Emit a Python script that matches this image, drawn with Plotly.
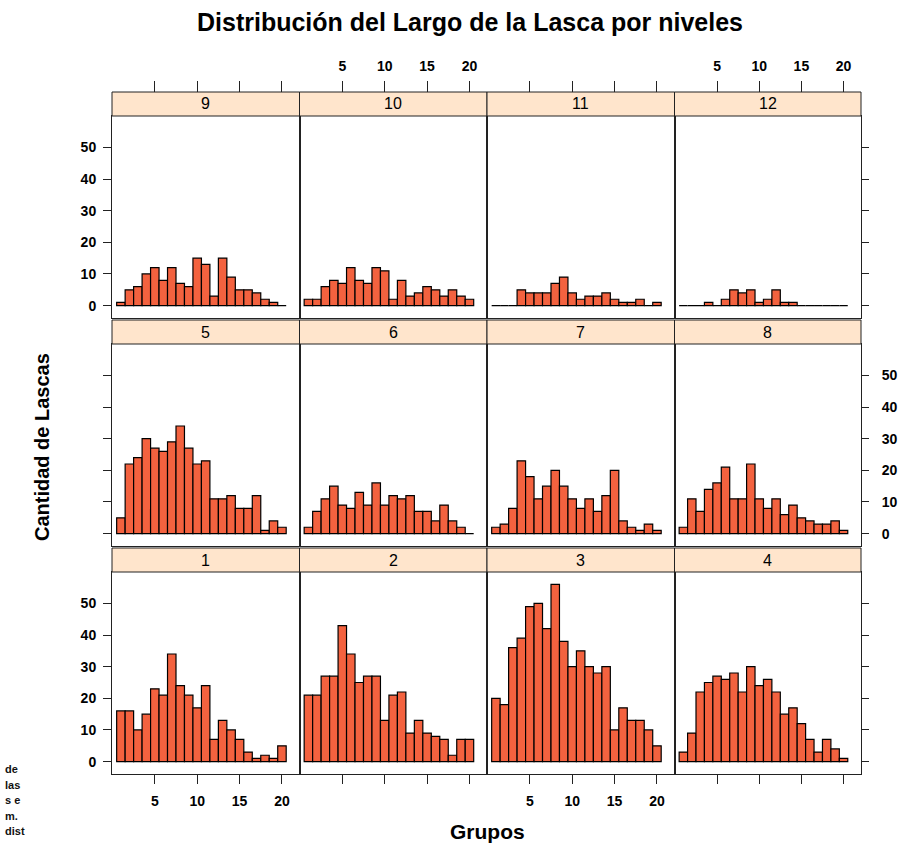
import plotly.graph_objects as go

# ---- data -------------------------------------------------------------
grupos = list(range(1, 21))

conteo_nivel_1 = [16, 16, 10, 15, 23, 21, 34, 24, 21, 17, 24, 7, 13, 10, 7, 3, 1, 2, 1, 5]
conteo_nivel_2 = [21, 21, 27, 27, 43, 34, 25, 27, 27, 13, 21, 22, 9, 13, 9, 8, 7, 2, 7, 7]
conteo_nivel_3 = [20, 18, 36, 39, 49, 50, 42, 56, 38, 30, 35, 30, 28, 30, 10, 17, 13, 13, 10, 5]
conteo_nivel_4 = [3, 9, 22, 25, 27, 26, 28, 22, 30, 24, 26, 22, 15, 17, 12, 7, 3, 7, 4, 1]
conteo_nivel_5 = [5, 22, 24, 30, 27, 26, 29, 34, 27, 22, 23, 11, 11, 12, 8, 8, 12, 1, 4, 2]
conteo_nivel_6 = [2, 7, 11, 15, 9, 8, 13, 9, 16, 9, 12, 11, 12, 7, 7, 4, 9, 4, 2, 0]
conteo_nivel_7 = [2, 3, 8, 23, 18, 11, 15, 20, 15, 11, 8, 11, 7, 12, 20, 4, 2, 1, 3, 1]
conteo_nivel_8 = [2, 11, 7, 14, 16, 21, 11, 11, 22, 11, 8, 11, 6, 9, 5, 4, 3, 3, 4, 1]
conteo_nivel_9 = [1, 5, 6, 10, 12, 8, 12, 7, 6, 15, 13, 3, 15, 9, 5, 5, 4, 2, 1, 0]
conteo_nivel_10 = [2, 2, 6, 8, 7, 12, 8, 7, 12, 11, 2, 8, 3, 4, 6, 5, 3, 5, 3, 2]
conteo_nivel_11 = [0, 0, 0, 5, 4, 4, 4, 7, 9, 4, 2, 3, 3, 4, 2, 1, 1, 2, 0, 1]
conteo_nivel_12 = [0, 0, 0, 1, 0, 2, 5, 4, 5, 1, 2, 5, 1, 1, 0, 0, 0, 0, 0, 0]

conteos = {
    1: conteo_nivel_1, 2: conteo_nivel_2, 3: conteo_nivel_3, 4: conteo_nivel_4,
    5: conteo_nivel_5, 6: conteo_nivel_6, 7: conteo_nivel_7, 8: conteo_nivel_8,
    9: conteo_nivel_9, 10: conteo_nivel_10, 11: conteo_nivel_11, 12: conteo_nivel_12,
}

x_ticks = [5, 10, 15, 20]
y_ticks = [0, 10, 20, 30, 40, 50]

# panel layout: rows top->bottom
niveles_por_fila = [[9, 10, 11, 12], [5, 6, 7, 8], [1, 2, 3, 4]]

# ---- geometry (pixels) ------------------------------------------------
W, H = 907, 847
col_edges = [112, 299.5, 487, 674.5, 861]
row_bottoms = [318, 546, 774]
plot_h = 202
strip_h = 24
X_RANGE = [-0.05, 22.07]
Y_RANGE = [-3.92, 59.92]

FONT = "Liberation Sans, Arial, sans-serif"
BAR_FILL = "#F3623F"
STRIP_FILL = "#FFE5CC"
LINE = "#222222"


def px_x(v):
    return v / W


def px_y(v):
    return 1 - v / H


fig = go.Figure()
layout = dict(
    width=W, height=H,
    margin=dict(l=0, r=0, t=0, b=0),
    paper_bgcolor="white", plot_bgcolor="white",
    showlegend=False,
    font=dict(family=FONT, color="black"),
    shapes=[], annotations=[],
)

tick_font = dict(family=FONT, size=14, color="black", weight="bold")


def label(text, x, y, size, angle=0, xanchor="center", color="black", weight="normal"):
    layout["annotations"].append(dict(
        text=text, xref="paper", yref="paper", x=x, y=y,
        xanchor=xanchor, yanchor="middle", textangle=angle,
        showarrow=False, font=dict(family=FONT, size=size, color=color, weight=weight),
    ))


for r, fila in enumerate(niveles_por_fila):
    bottom = row_bottoms[r]
    top = bottom - plot_h
    for c, nivel in enumerate(fila):
        k = r * 4 + c + 1
        xa = "x" if k == 1 else f"x{k}"
        ya = "y" if k == 1 else f"y{k}"
        xkey = "xaxis" if k == 1 else f"xaxis{k}"
        ykey = "yaxis" if k == 1 else f"yaxis{k}"
        left, right = col_edges[c], col_edges[c + 1]

        fig.add_trace(go.Bar(
            x=grupos, y=conteos[nivel], width=1.0,
            marker=dict(color=BAR_FILL, line=dict(color="black", width=1.2)),
            xaxis=xa, yaxis=ya, hoverinfo="x+y",
        ))

        bottom_row = r == 2
        layout[xkey] = dict(
            domain=[px_x(left), px_x(right)], range=X_RANGE, anchor=ya,
            showgrid=False, zeroline=False, showline=True, mirror=True,
            linecolor=LINE, linewidth=1,
            tickmode="array", tickvals=x_ticks,
            ticks="outside" if bottom_row else "", ticklen=9, tickcolor=LINE,
            ticklabelstandoff=5,
            showticklabels=bottom_row and c in (0, 2), tickfont=tick_font,
        )
        left_col = c == 0
        layout[ykey] = dict(
            domain=[px_y(bottom), px_y(top)], range=Y_RANGE, anchor=xa,
            showgrid=False, zeroline=False, showline=True, mirror=True,
            linecolor=LINE, linewidth=1,
            tickmode="array", tickvals=y_ticks,
            ticks="outside" if left_col else "", ticklen=8, tickcolor=LINE,
            ticklabelstandoff=4,
            showticklabels=left_col and r in (0, 2), tickfont=tick_font,
        )

        # strip with the level number
        layout["shapes"].append(dict(
            type="rect", xref="paper", yref="paper",
            x0=px_x(left), x1=px_x(right),
            y0=px_y(top), y1=px_y(top - strip_h),
            fillcolor=STRIP_FILL, line=dict(color=LINE, width=1), layer="above",
        ))
        label(str(nivel), px_x((left + right) / 2), px_y(top - strip_h / 2), 16)

        # top axis above the strips for the first row
        if r == 0:
            kt = 12 + c + 1
            layout[f"xaxis{kt}"] = dict(
                overlaying=xa, range=X_RANGE, side="top",
                anchor="free", position=px_y(top - strip_h),
                showgrid=False, zeroline=False, showline=False,
                tickmode="array", tickvals=x_ticks,
                ticks="outside", ticklen=11, tickcolor=LINE,
                ticklabelstandoff=4,
                showticklabels=c in (1, 3), tickfont=tick_font,
            )
            fig.add_trace(go.Scatter(
                x=[10], y=[0], xaxis=f"x{kt}", yaxis=ya, mode="markers",
                marker=dict(opacity=0), hoverinfo="skip",
            ))

        # right-hand axis for the last column
        if c == 3:
            kr = 17 + r
            layout[f"yaxis{kr}"] = dict(
                overlaying=ya, range=Y_RANGE, side="right", anchor=xa,
                showgrid=False, zeroline=False, showline=False,
                tickmode="array", tickvals=y_ticks,
                ticks="outside", ticklen=7, tickcolor=LINE,
                ticklabelstandoff=10,
                showticklabels=r == 1, tickfont=tick_font,
            )
            fig.add_trace(go.Scatter(
                x=[10], y=[0], xaxis=xa, yaxis=f"y{kr}", mode="markers",
                marker=dict(opacity=0), hoverinfo="skip",
            ))

# titles
label("Distribución del Largo de la Lasca por niveles", px_x(470), px_y(22), 25, weight="bold")
label("Cantidad de Lascas", px_x(42), px_y(447), 20, angle=-90, weight="bold")
label("Grupos", px_x(487), px_y(831), 21, weight="bold")

# stray words at the lower left margin
margen_palabras = ["de", "las", "s e", "m.", "dist"]
for i, palabra in enumerate(margen_palabras):
    label(palabra, px_x(3), px_y(769 + i * 15.5), 11, xanchor="left",
          color="#111111", weight="bold")

fig.update_layout(**layout)
fig.write_html("out.html")
